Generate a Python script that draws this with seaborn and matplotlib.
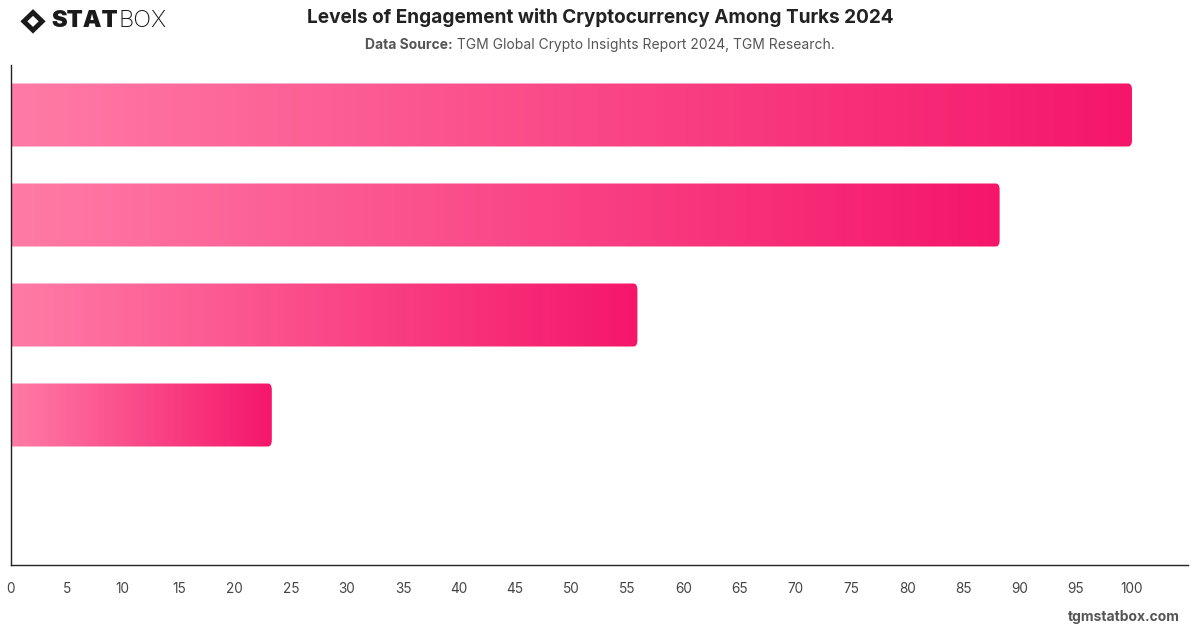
"""Levels of Engagement with Cryptocurrency Among Turks 2024"""
import numpy as np
import pandas as pd
import matplotlib.pyplot as plt
import seaborn as sns
from matplotlib.colors import LinearSegmentedColormap
from matplotlib.patches import FancyBboxPatch, Polygon

# ================= DATA =================
levels = ["Level 1", "Level 2", "Level 3", "Level 4"]
share = [100, 88.2, 55.9, 23.3]
x_ticks = list(range(0, 101, 5))

df = pd.DataFrame({"level": levels, "share": share})

sns.set_theme(style="white")
plt.rcParams['font.family'] = ['Inter', 'DejaVu Sans']

fig = plt.figure(figsize=(12, 6.28), dpi=100)
ax = fig.add_axes([0.00875, 0.1003, 0.9813, 0.7962])

sns.barplot(data=df, x="share", y="level", orient="h", width=0.63,
            color="#f5166a", ax=ax)

# 5 slots, last one left empty like the original
ax.set_ylim(4.5, -0.5)
ax.set_xlim(0, 105)

# gradient fill for each bar, light pink -> hot pink
cmap = LinearSegmentedColormap.from_list("pinks", ["#ff7ba6", "#f5166a"])
grad = np.linspace(0, 1, 256).reshape(1, -1)
for p in list(ax.patches):
    x0, y0 = p.get_x(), p.get_y()
    w, h = p.get_width(), p.get_height()
    p.set_visible(False)
    # clip starts left of the bar so only the right end is rounded
    clip = FancyBboxPatch((x0 - 2, y0), w + 2, h,
                          boxstyle="round,pad=0,rounding_size=0.35",
                          mutation_aspect=0.18,
                          transform=ax.transData, facecolor="none",
                          edgecolor="none")
    ax.add_patch(clip)
    im = ax.imshow(grad, cmap=cmap, aspect="auto",
                   extent=[x0, x0 + w, y0 + h, y0], zorder=2)
    im.set_clip_path(clip)

ax.set_xlim(0, 105)
ax.set_ylim(4.5, -0.5)

ax.set_xticks(x_ticks)
ax.set_xticklabels([str(t) for t in x_ticks], fontsize=9.8, color="#444444")
ax.set_yticks([])
ax.set_xlabel("")
ax.set_ylabel("")
ax.tick_params(axis="x", length=0, pad=12)
for s in ["top", "right"]:
    ax.spines[s].set_visible(False)
for s in ["left", "bottom"]:
    ax.spines[s].set_color("#222222")
    ax.spines[s].set_linewidth(1.0)

# ================= TITLES =================
fig.text(0.5, 0.972, "Levels of Engagement with Cryptocurrency Among Turks 2024",
         ha="center", va="center", fontsize=13.7, fontweight="bold",
         color="#222222")
fig.text(0.5, 0.929, "Data Source:", ha="right", va="center", fontsize=10,
         fontweight="bold", color="#555555")
fig.text(0.5, 0.929, " TGM Global Crypto Insights Report 2024, TGM Research.",
         ha="left", va="center", fontsize=10, color="#555555")
# re-centre the subtitle pair
fig.canvas.draw()
r = fig.canvas.get_renderer()
sub = [t for t in fig.texts[-2:]]
w1 = sub[0].get_window_extent(r).width
w2 = sub[1].get_window_extent(r).width
shift = (w1 - w2) / 2 / fig.bbox.width
for t in sub:
    x, y = t.get_position()
    t.set_position((x + shift, y))

fig.text(0.983, 0.018, "tgmstatbox.com", ha="right", va="center",
         fontsize=10, fontweight="bold", color="#555555")

# ================= LOGO =================
cx, cy = 0.0275, 0.966
dx, dy = 0.0105, 0.0195
fig.patches.append(Polygon([[cx - dx, cy], [cx, cy + dy], [cx + dx, cy], [cx, cy - dy]],
                           closed=True, transform=fig.transFigure,
                           facecolor="#1a1a1a", edgecolor="none"))
fig.patches.append(Polygon([[cx - dx * 0.45, cy], [cx, cy + dy * 0.45],
                            [cx + dx * 0.45, cy], [cx, cy - dy * 0.45]],
                           closed=True, transform=fig.transFigure,
                           facecolor="white", edgecolor="none"))
fig.text(0.043, 0.966, "STAT", ha="left", va="center", fontsize=17,
         fontweight="black", color="#1a1a1a")
fig.text(0.0985, 0.966, "BOX", ha="left", va="center", fontsize=17,
         fontweight="light", color="#1a1a1a")

fig.savefig("out.png", dpi=100)
